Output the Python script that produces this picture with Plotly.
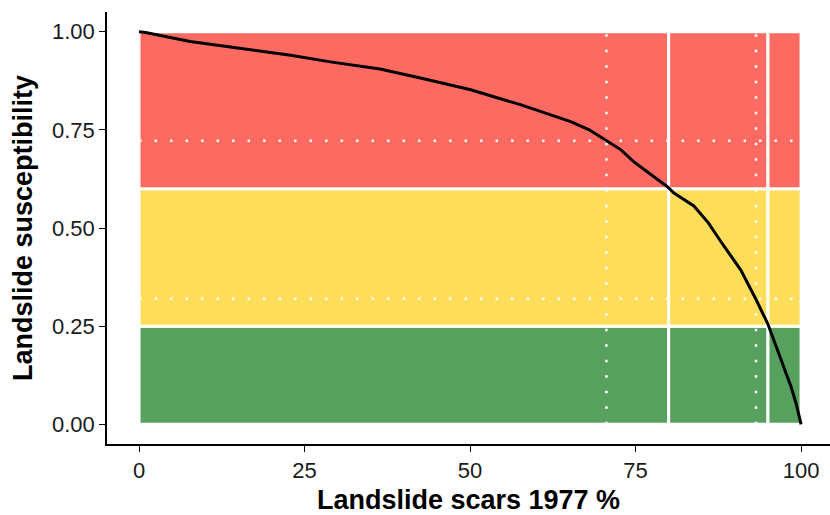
import plotly.graph_objects as go

# Curve data
scar_pct = [0, 1, 3.6, 7.7, 13.8, 22.9, 28.9, 36.4, 42.5, 50.1, 57.6, 65.2, 68, 70.7,
            72.8, 74.7, 77.5, 79.8, 80.8, 83.8, 86, 87.9, 90.9, 93.2, 95.0, 95.9,
            97.2, 98.5, 99.3, 100]
susceptibility = [1.0, 0.998, 0.989, 0.975, 0.961, 0.940, 0.923, 0.905, 0.882, 0.852,
                  0.814, 0.771, 0.75, 0.722, 0.699, 0.669, 0.635, 0.605, 0.589, 0.556,
                  0.513, 0.465, 0.393, 0.318, 0.255, 0.214, 0.156, 0.095, 0.05, 0.0]

# Zone breaks
x_breaks = [0, 80, 95, 100]
y_breaks = [0, 0.25, 0.6, 1.0]
zone_colors = ["#58A05E", "#FEDD5B", "#FD6A61"]  # low, medium, high

# Dotted threshold lines
x_thresh = [70.6, 93.2]
y_thresh = [0.722, 0.32]

x_ticks = [0, 25, 50, 75, 100]
y_ticks = [0.0, 0.25, 0.5, 0.75, 1.0]
y_ticklabels = ["0.00", "0.25", "0.50", "0.75", "1.00"]

shapes = []
for j in range(len(y_breaks) - 1):
    for i in range(len(x_breaks) - 1):
        shapes.append(dict(type="rect", xref="x", yref="y",
                           x0=x_breaks[i], x1=x_breaks[i + 1],
                           y0=y_breaks[j], y1=y_breaks[j + 1],
                           fillcolor=zone_colors[j],
                           line=dict(color="white", width=3), layer="below"))

for xv in x_thresh:
    shapes.append(dict(type="line", xref="x", yref="y", x0=xv, x1=xv, y0=0, y1=1,
                       line=dict(color="white", width=2.5, dash="2.5px,13px"), layer="below"))
for yv in y_thresh:
    shapes.append(dict(type="line", xref="x", yref="y", x0=0, x1=100, y0=yv, y1=yv,
                       line=dict(color="white", width=2.5, dash="2.5px,13px"), layer="below"))

fig = go.Figure()
fig.add_trace(go.Scatter(x=scar_pct, y=susceptibility, mode="lines",
                         line=dict(color="black", width=3), showlegend=False))

font_family = "Liberation Sans, Arial, sans-serif"
fig.update_layout(
    width=830, height=515,
    margin=dict(l=107, r=0, t=12, b=71),
    plot_bgcolor="white", paper_bgcolor="white",
    shapes=shapes,
    font=dict(family=font_family, color="#1a1a1a"),
    xaxis=dict(range=[-4.84, 104.37], tickvals=x_ticks, ticktext=[str(v) for v in x_ticks],
               showgrid=False, zeroline=False, showline=True, linecolor="black", linewidth=1.5,
               ticks="outside", ticklen=6, tickcolor="black", tickwidth=1.2,
               tickfont=dict(size=22, color="#1a1a1a"), automargin=False,
               title=dict(text="<b>Landslide scars 1977 %</b>", font=dict(size=27, color="black"),
                          standoff=9)),
    yaxis=dict(range=[-0.05, 1.05], tickvals=y_ticks, ticktext=y_ticklabels,
               showgrid=False, zeroline=False, showline=True, linecolor="black", linewidth=1.5,
               ticks="outside", ticklen=6, tickcolor="black", tickwidth=1.2,
               tickfont=dict(size=22, color="#1a1a1a"), automargin=False,
               title=dict(text="<b>Landslide susceptibility</b>", font=dict(size=27, color="black"),
                          standoff=12)),
)

fig.write_html("out.html")
